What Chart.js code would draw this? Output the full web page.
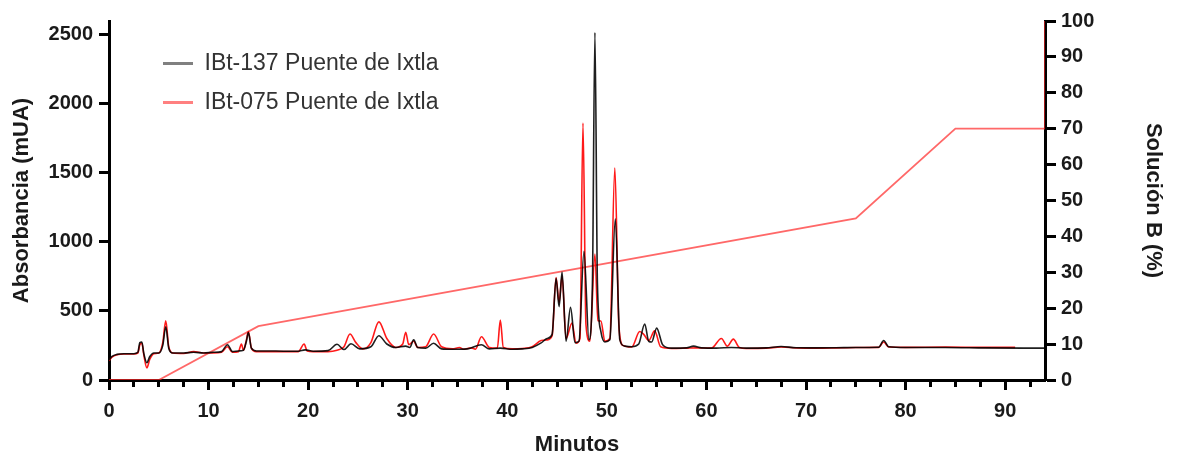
<!DOCTYPE html>
<html>
<head>
<meta charset="utf-8">
<script src="https://cdn.jsdelivr.net/npm/chart.js@4.4.1/dist/chart.umd.min.js"></script>
<style>
  body { margin: 0; background: #fff; }
</style>
</head>
<body>
<canvas id="myChart" width="1179" height="461"></canvas>
<script>
// IBt-137 (negro)
const tiempo137 = [0, 0.3, 0.8, 1.5, 2.5, 2.9, 3.1, 3.3, 3.5, 3.8, 4.1, 4.5, 5.0, 5.4, 5.7, 6.0, 6.4, 7.5, 8.5, 9.5, 10.5, 11.3, 11.9, 12.4, 13.0, 13.5, 13.8, 14.0, 14.3, 14.8, 16, 17.5, 19, 19.7, 20.5, 22, 22.9, 23.6, 24.3, 25.2, 26.3, 27.1, 27.9, 28.8, 29.8, 30.2, 30.6, 31.0, 31.8, 32.6, 33.4, 34.5, 36, 37.4, 38.2, 39.3, 40.5, 41.5, 42.5, 43.4, 44.0, 44.5, 44.9, 45.2, 45.5, 45.9, 46.35, 46.8, 47.2, 47.7, 48.2, 48.55, 48.8, 49.05, 49.4, 49.8, 50.3, 50.85, 51.3, 51.8, 52.5, 53.2, 53.8, 54.2, 54.5, 55.0, 55.6, 56.5, 58, 58.7, 59.5, 61, 62.5, 64, 66, 67.5, 69, 71, 73, 75, 77.3, 77.8, 78.3, 80, 84, 88, 94];
const abs137 = [145, 170, 185, 190, 190, 200, 270, 275, 190, 125, 170, 195, 195, 250, 385, 230, 195, 195, 200, 195, 200, 205, 255, 205, 210, 215, 280, 342, 230, 210, 210, 208, 208, 218, 208, 212, 258, 220, 262, 225, 240, 320, 260, 235, 245, 235, 290, 235, 230, 265, 225, 222, 225, 255, 225, 230, 222, 225, 235, 268, 300, 330, 735, 530, 780, 280, 525, 270, 280, 930, 290, 700, 2510, 700, 350, 275, 290, 1165, 290, 245, 240, 260, 405, 280, 275, 375, 255, 230, 232, 245, 232, 230, 235, 230, 232, 242, 233, 232, 233, 235, 237, 285, 240, 235, 235, 232, 230];

// IBt-075 (rojo)
const tiempo075 = [0, 0.3, 0.8, 1.5, 2.5, 2.9, 3.1, 3.3, 3.5, 3.8, 4.1, 4.5, 5.0, 5.4, 5.7, 6.0, 6.4, 7.5, 8.5, 9.5, 10.5, 11.3, 11.9, 12.4, 13.0, 13.3, 13.5, 13.8, 14.0, 14.3, 14.8, 16, 17.5, 19, 19.6, 19.9, 20.5, 22, 22.9, 23.6, 24.2, 24.8, 25.5, 26.3, 27.1, 27.9, 28.8, 29.5, 29.8, 30.1, 30.6, 31.0, 31.8, 32.6, 33.4, 34.5, 35.2, 35.6, 36.4, 36.8, 37.4, 38.2, 39.0, 39.3, 39.6, 40.5, 41.5, 42.5, 43.4, 44.0, 44.5, 44.9, 45.2, 45.5, 45.9, 46.5, 46.9, 47.3, 47.6, 47.9, 48.3, 48.8, 49.1, 49.4, 49.8, 50.3, 50.8, 51.2, 51.6, 52.5, 53.3, 53.7, 54.2, 54.8, 55.4, 56.5, 58, 59, 60.5, 61.5, 62.1, 62.7, 63.3, 64, 66, 67.5, 69, 71, 73, 75, 77.3, 77.8, 78.3, 80, 84, 88, 91];
const abs075 = [140, 165, 182, 188, 188, 195, 255, 265, 180, 88, 150, 190, 195, 270, 428, 240, 195, 192, 205, 195, 195, 200, 240, 200, 205, 260, 215, 290, 350, 230, 205, 205, 205, 205, 260, 210, 205, 205, 215, 240, 332, 270, 225, 270, 420, 300, 235, 260, 345, 255, 280, 235, 240, 332, 240, 225, 235, 222, 232, 222, 312, 235, 230, 433, 235, 225, 228, 240, 285, 290, 320, 740, 560, 750, 300, 412, 265, 300, 1857, 400, 280, 910, 430, 426, 280, 300, 1532, 400, 250, 238, 350, 330, 285, 355, 240, 228, 230, 232, 230, 300, 245, 295, 235, 228, 230, 238, 232, 230, 232, 235, 236, 275, 238, 236, 238, 236, 236];

// Gradiente (Solución B, %)
const tiempoGradiente = [0, 5, 15, 75, 85, 94, 94];
const solucionB = [0, 0, 15, 45, 70, 70, 100];

// Marcas de los ejes
const ticksMinutos = [0, 10, 20, 30, 40, 50, 60, 70, 80, 90];
const ticksMenores = [2.5, 5, 7.5, 12.5, 15, 17.5, 22.5, 25, 27.5, 32.5, 35, 37.5, 42.5, 45, 47.5, 52.5, 55, 57.5, 62.5, 65, 67.5, 72.5, 75, 77.5, 82.5, 85, 87.5, 92.5];
const ticksAbs = [0, 500, 1000, 1500, 2000, 2500];
const ticksSolB = [0, 10, 20, 30, 40, 50, 60, 70, 80, 90, 100];

const toPoints = (xs, ys) => xs.map((x, i) => ({ x: x, y: ys[i] }));

Chart.defaults.font.family = '"Liberation Sans", Arial, sans-serif';
Chart.defaults.color = '#1a1a1a';

const tickFont = { size: 20, weight: 'bold' };

// marcas menores del eje x (más cortas que las principales)
const marcasMenores = {
  id: 'marcasMenores',
  afterDraw(chart) {
    const s = chart.scales.x;
    const c = chart.ctx;
    c.save();
    c.strokeStyle = '#000';
    c.lineWidth = 3;
    ticksMenores.forEach((v) => {
      const px = Math.round(s.getPixelForValue(v) - 1.5) + 1.5;
      c.beginPath();
      c.moveTo(px, s.top);
      c.lineTo(px, s.top + 7);
      c.stroke();
    });
    c.restore();
  }
};

const legendShift = {
  id: 'legendShift',
  afterLayout(chart) {
    chart.legend.left += 38;
    chart.legend.top += 36;
  }
};

const ctx = document.getElementById('myChart').getContext('2d');
new Chart(ctx, {
  type: 'line',
  data: {
    datasets: [
      {
        label: 'IBt-137 Puente de Ixtla',
        data: toPoints(tiempo137, abs137),
        borderColor: 'rgba(0,0,0,0.88)',
        borderWidth: 1.6,
        pointRadius: 0,
        cubicInterpolationMode: 'monotone',
        yAxisID: 'y'
      },
      {
        label: 'IBt-075 Puente de Ixtla',
        data: toPoints(tiempo075, abs075),
        borderColor: 'rgba(255,0,0,0.9)',
        borderWidth: 1.6,
        pointRadius: 0,
        cubicInterpolationMode: 'monotone',
        yAxisID: 'y'
      },
      {
        label: 'Solución B',
        data: toPoints(tiempoGradiente, solucionB),
        borderColor: 'rgba(255,40,40,0.7)',
        borderWidth: 1.8,
        pointRadius: 0,
        tension: 0,
        yAxisID: 'y1'
      }
    ]
  },
  options: {
    responsive: false,
    animation: false,
    layout: { padding: { top: 21, left: 0, right: 0, bottom: 0 } },
    scales: {
      x: {
        type: 'linear',
        position: 'bottom',
        min: 0,
        max: 94,
        afterBuildTicks: (scale) => { scale.ticks = ticksMinutos.map(v => ({ value: v })); },
        afterFit: (scale) => { scale.height = 81; },
        ticks: {
          autoSkip: false,
          maxRotation: 0,
          padding: 9,
          font: tickFont,
          callback: (v) => String(v)
        },
        grid: { drawOnChartArea: false, tickLength: 10, tickWidth: 3, tickColor: '#000' },
        border: { display: true, width: 3, color: '#000' },
        title: {
          display: true,
          text: 'Minutos',
          font: { size: 22, weight: 'bold' },
          padding: { top: 0, bottom: 3 }
        }
      },
      y: {
        position: 'left',
        min: 0,
        max: 2594,
        afterBuildTicks: (scale) => { scale.ticks = ticksAbs.map(v => ({ value: v })); },
        afterFit: (scale) => { scale.width = 109; },
        ticks: { padding: 6, font: tickFont, callback: (v) => String(v) },
        grid: { drawOnChartArea: false, tickLength: 10, tickWidth: 3, tickColor: '#000' },
        border: { display: true, width: 3, color: '#000' },
        title: {
          display: true,
          text: 'Absorbancia (mUA)',
          font: { size: 22, weight: 'bold' },
          padding: { top: 9, bottom: 0 }
        }
      },
      y1: {
        position: 'right',
        min: 0,
        max: 100,
        afterBuildTicks: (scale) => { scale.ticks = ticksSolB.map(v => ({ value: v })); },
        afterFit: (scale) => { scale.width = 134; },
        ticks: { padding: 5, font: tickFont },
        grid: { drawOnChartArea: false, tickLength: 11, tickWidth: 3, tickColor: '#000' },
        border: { display: true, width: 3, color: '#000' },
        title: {
          display: true,
          text: 'Solución B (%)',
          font: { size: 22, weight: 'bold' },
          padding: { top: 13, bottom: 0 }
        }
      }
    },
    plugins: {
      tooltip: { enabled: false },
      legend: {
        position: 'chartArea',
        align: 'start',
        labels: {
          usePointStyle: true,
          pointStyle: 'line',
          pointStyleWidth: 30,
          padding: 16,
          color: '#333',
          font: { size: 23 },
          filter: (item) => item.datasetIndex < 2,
          generateLabels: (chart) => {
            const colores = ['#808080', '#ff8080', '#ff8080'];
            return chart.data.datasets.map((ds, i) => ({
              text: ds.label,
              strokeStyle: colores[i],
              fillStyle: colores[i],
              lineWidth: 3,
              pointStyle: 'line',
              hidden: false,
              datasetIndex: i,
              fontColor: '#333'
            }));
          }
        }
      }
    }
  },
  plugins: [legendShift, marcasMenores]
});
</script>
</body>
</html>
